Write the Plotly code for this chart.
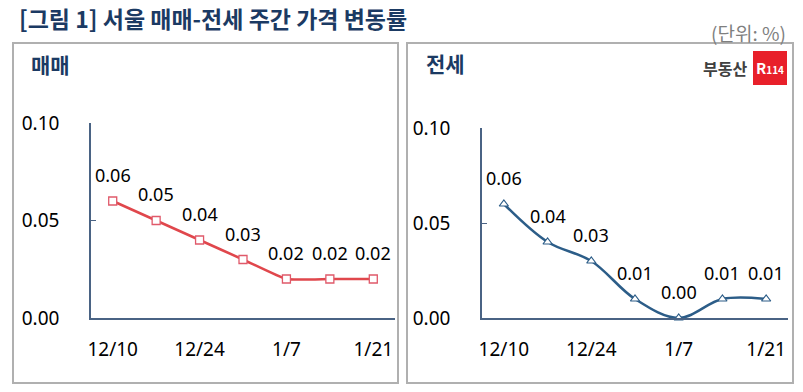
import plotly.graph_objects as go

weeks = ["12/10", "12/17", "12/24", "12/31", "1/7", "1/14", "1/21"]
tick_weeks = ["12/10", "12/24", "1/7", "1/21"]
sale = [0.06, 0.05, 0.04, 0.03, 0.02, 0.02, 0.02]
jeonse = [0.06, 0.04, 0.03, 0.01, 0.00, 0.01, 0.01]
y_ticks = [0.0, 0.05, 0.10]
y_ticktext = ["0.00", "0.05", "0.10"]

W, H = 803, 392
FONT = "Noto Sans CJK KR"
NUMFONT = "Noto Sans"
NAVY = "#1B3A63"
AXIS = "#4A6384"

def px(x):
    return x / W

def py(y):
    return 1 - y / H

fig = go.Figure()

fig.add_trace(go.Scatter(
    x=weeks, y=sale, mode="lines+markers", xaxis="x", yaxis="y",
    line=dict(color="#E0474C", width=2.5, shape="spline", smoothing=0.4),
    marker=dict(symbol="square", size=8, color="white",
                line=dict(color="#E0596A", width=1.3)),
    cliponaxis=False, showlegend=False, hoverinfo="skip"))

fig.add_trace(go.Scatter(
    x=weeks, y=jeonse, mode="lines+markers", xaxis="x2", yaxis="y2",
    line=dict(color="#2C5D88", width=2.5, shape="spline", smoothing=1.0),
    marker=dict(symbol="triangle-up", size=8, color="white",
                line=dict(color="#2C5D88", width=1.2)),
    cliponaxis=False, showlegend=False, hoverinfo="skip"))

annotations = []
for xs, ys, xa, ya in [(weeks, sale, "x", "y"), (weeks, jeonse, "x2", "y2")]:
    for xv, yv in zip(xs, ys):
        annotations.append(dict(
            x=xv, y=yv, xref=xa, yref=ya, text=f"{yv:.2f}", showarrow=False,
            yshift=26, font=dict(family=NUMFONT, size=18, color="black")))

# titles and texts
annotations += [
    dict(x=px(17), y=py(18), xref="paper", yref="paper", xanchor="left", yanchor="middle",
         text="<b>[그림 1] 서울 매매-전세 주간 가격 변동률</b>", showarrow=False,
         font=dict(family=FONT, size=23, color=NAVY)),
    dict(x=px(788), y=py(33), xref="paper", yref="paper", xanchor="right", yanchor="middle",
         text="(단위: %)", showarrow=False,
         font=dict(family=FONT, size=19, color="#7F7F7F")),
    dict(x=px(29), y=py(64), xref="paper", yref="paper", xanchor="left", yanchor="middle",
         text="<b>매매</b>", showarrow=False,
         font=dict(family=FONT, size=21, color=NAVY)),
    dict(x=px(424), y=py(63), xref="paper", yref="paper", xanchor="left", yanchor="middle",
         text="<b>전세</b>", showarrow=False,
         font=dict(family=FONT, size=21, color=NAVY)),
    dict(x=px(749), y=py(68), xref="paper", yref="paper", xanchor="right", yanchor="middle",
         text="<b>부동산</b>", showarrow=False,
         font=dict(family=FONT, size=16, color="#404040")),
    dict(x=px(770), y=py(68), xref="paper", yref="paper", xanchor="center", yanchor="middle",
         text="<b>R</b><span style='font-size:10px'><b>114</b></span>", showarrow=False,
         font=dict(family=FONT, size=15, color="white")),
]

shapes = [
    dict(type="rect", xref="paper", yref="paper", x0=px(13), x1=px(398), y0=py(383), y1=py(43),
         line=dict(color="#B0B0B0", width=2), fillcolor="rgba(0,0,0,0)"),
    dict(type="rect", xref="paper", yref="paper", x0=px(407), x1=px(793), y0=py(383), y1=py(43),
         line=dict(color="#B0B0B0", width=2), fillcolor="rgba(0,0,0,0)"),
    dict(type="rect", xref="paper", yref="paper", x0=px(753), x1=px(787), y0=py(85), y1=py(51),
         line=dict(width=0), fillcolor="#E8202A", layer="below"),
]

xcommon = dict(type="category", categoryorder="array", categoryarray=weeks,
               range=[-0.5, 6.5], tickvals=tick_weeks, ticktext=tick_weeks,
               showline=True, linecolor=AXIS, linewidth=1.5, ticks="",
               showgrid=False, zeroline=False, ticklabelstandoff=13, automargin=False,
               tickfont=dict(family=NUMFONT, size=19, color="black"))
ycommon = dict(range=[0, 0.10], tickvals=y_ticks, ticktext=y_ticktext,
               showline=True, linecolor=AXIS, linewidth=1.5, ticks="inside",
               ticklen=5, tickcolor=AXIS, tickwidth=1.2,
               showgrid=False, zeroline=False, ticklabelstandoff=26, automargin=False,
               tickfont=dict(family=NUMFONT, size=19, color="black"))

fig.update_layout(
    template="none",
    width=W, height=H, margin=dict(l=0, r=0, t=0, b=0, pad=0),
    paper_bgcolor="white", plot_bgcolor="white",
    xaxis=dict(domain=[px(91), px(395)], anchor="y", **xcommon),
    yaxis=dict(domain=[py(318), py(123)], anchor="x", **ycommon),
    xaxis2=dict(domain=[px(482), px(788)], anchor="y2", **xcommon),
    yaxis2=dict(domain=[py(318), py(128)], anchor="x2", **ycommon),
    annotations=annotations, shapes=shapes,
)

fig.write_html("out.html", config={"displayModeBar": False},
               post_script="document.body.style.margin='0';document.body.style.overflow='hidden';")
